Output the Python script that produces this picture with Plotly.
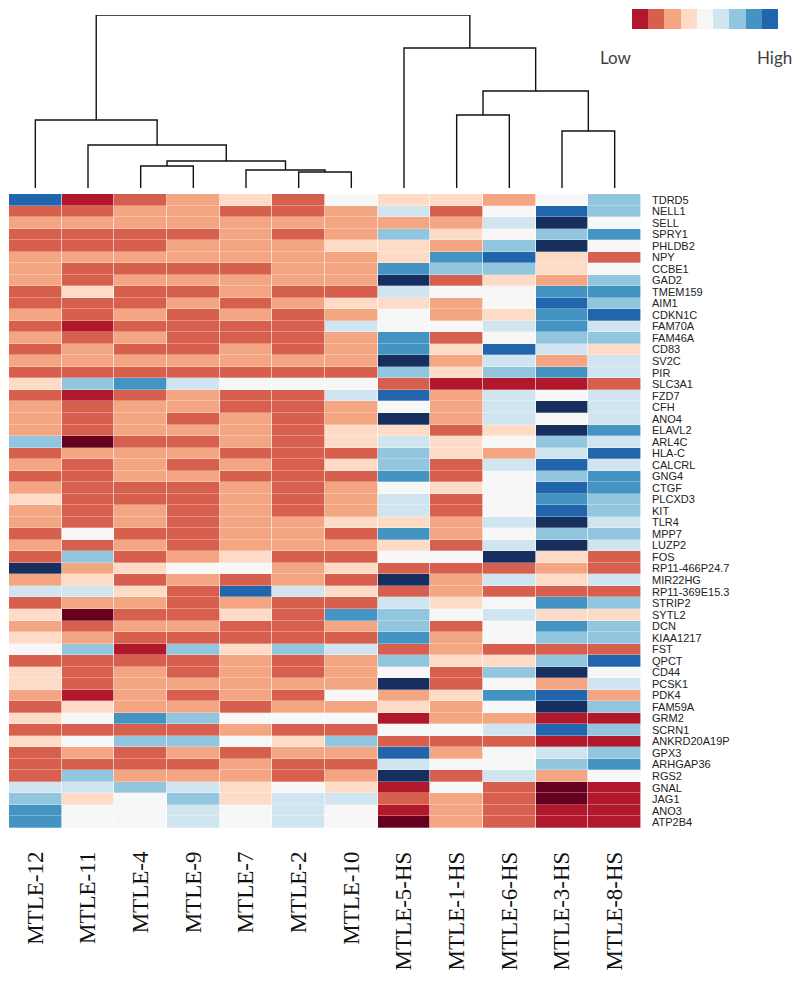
import plotly.graph_objects as go

samples = ["MTLE-12", "MTLE-11", "MTLE-4", "MTLE-9", "MTLE-7", "MTLE-2", "MTLE-10",
           "MTLE-5-HS", "MTLE-1-HS", "MTLE-6-HS", "MTLE-3-HS", "MTLE-8-HS"]

genes = ["TDRD5", "NELL1", "SELL", "SPRY1", "PHLDB2", "NPY", "CCBE1", "GAD2", "TMEM159",
         "AIM1", "CDKN1C", "FAM70A", "FAM46A", "CD83", "SV2C", "PIR", "SLC3A1", "FZD7",
         "CFH", "ANO4", "ELAVL2", "ARL4C", "HLA-C", "CALCRL", "GNG4", "CTGF", "PLCXD3",
         "KIT", "TLR4", "MPP7", "LUZP2", "FOS", "RP11-466P24.7", "MIR22HG", "RP11-369E15.3",
         "STRIP2", "SYTL2", "DCN", "KIAA1217", "FST", "QPCT", "CD44", "PCSK1", "PDK4",
         "FAM59A", "GRM2", "SCRN1", "ANKRD20A19P", "GPX3", "ARHGAP36", "RGS2", "GNAL",
         "JAG1", "ANO3", "ATP2B4"]

# expression level (binned, -5 = lowest ... 5 = highest), one row per gene
levels = [
    [4, -4, -3, -2, -1, -3, 0, -1, -1, -2, 0, 2],
    [-3, -3, -2, -2, -3, -3, -2, 1, -3, 0, 4, 2],
    [-2, -2, -2, -2, -2, -2, -2, -2, -2, 1, 5, 0],
    [-3, -3, -3, -3, -2, -3, -2, 2, -1, 0, 2, 3],
    [-3, -3, -3, -2, -2, -2, -1, -1, -2, 2, 5, 0],
    [-2, -2, -2, -2, -2, -2, -2, -1, 3, 4, -1, -3],
    [-2, -3, -3, -3, -3, -2, -2, 3, 2, 2, -1, 0],
    [-2, -3, -2, -2, -2, -2, -2, 5, -3, -1, -2, 2],
    [-3, -1, -3, -3, -2, -3, -3, 1, 0, 0, 3, 3],
    [-3, -3, -3, -2, -3, -2, -1, -1, -2, 0, 4, 2],
    [-2, -3, -2, -3, -2, -3, -2, 0, -2, -1, 3, 4],
    [-3, -4, -3, -3, -3, -3, 1, 0, 0, 1, 3, 1],
    [-2, -3, -2, -3, -3, -3, -2, 3, -3, 0, 2, 2],
    [-3, -2, -3, -3, -2, -3, -2, 3, -1, 4, 1, -1],
    [-2, -2, -2, -2, -2, -2, -2, 5, -2, 1, -2, 1],
    [-3, -3, -3, -3, -3, -3, -3, 2, -1, 2, 3, 1],
    [-1, 2, 3, 1, 0, 0, 0, -3, -4, -4, -4, -3],
    [-3, -4, -3, -2, -3, -3, 1, 4, -2, 1, 0, 1],
    [-2, -3, -2, -2, -3, -3, -2, 0, -2, 1, 5, 1],
    [-2, -3, -2, -3, -2, -3, -2, 5, -2, 1, 0, 1],
    [-2, -3, -2, -2, -2, -3, -1, -1, -3, -1, 5, 3],
    [2, -5, -3, -3, -2, -3, -1, 1, -1, 0, 2, 1],
    [-3, -2, -2, -2, -3, -3, -3, 2, -1, -2, 1, 4],
    [-2, -3, -2, -3, -2, -3, -1, 2, -3, 1, 4, 1],
    [-3, -3, -2, -2, -3, -3, -3, 3, -3, 0, 2, 3],
    [-2, -3, -3, -3, -2, -3, -2, 0, -1, 0, 4, 3],
    [-1, -3, -3, -3, -2, -3, -2, 1, -3, 0, 3, 2],
    [-2, -3, -2, -3, -2, -3, -2, 1, -3, 0, 4, 2],
    [-2, -3, -2, -3, -2, -2, -1, -1, -2, 1, 5, 1],
    [-3, 0, -3, -3, -2, -2, -3, 3, -2, 0, 2, 2],
    [-2, -3, -2, -3, -2, -2, -2, -1, -3, 1, 5, 1],
    [-3, 2, -3, -2, -1, -3, -3, 0, 0, 5, -1, -3],
    [5, -2, -1, 0, 0, -2, -1, -3, -3, -3, -2, -3],
    [-2, -1, -3, -2, -3, -2, -3, 5, -2, 1, -1, 1],
    [1, 1, -1, -3, 4, 1, -1, -3, -2, -3, -3, -3],
    [-3, -2, -2, -3, -2, -3, -3, 1, -1, 0, 3, 2],
    [-1, -5, -3, -3, -1, -3, 3, 2, 0, 1, -1, -1],
    [-2, -3, -2, -2, -3, -3, -2, 2, -3, 0, 3, 2],
    [-1, -2, -3, -3, -3, -3, -3, 3, -2, 0, 2, 2],
    [0, 2, -4, 2, -1, 2, 1, -3, -2, -3, -3, -3],
    [-3, -3, -3, -3, -2, -3, -2, 2, -1, -1, 2, 4],
    [-1, -3, -2, -3, -2, -3, -2, 0, -3, 2, 5, 0],
    [-1, -3, -2, -2, -2, -2, -2, 5, -3, 0, -2, 1],
    [-2, -4, -2, -3, -2, -3, 0, -2, -1, 3, 4, -2],
    [-3, -1, -2, -2, -3, -2, -2, -1, -2, 0, 5, 2],
    [-1, 0, 3, 2, 0, 0, 0, -4, -2, -2, -4, -4],
    [-3, -3, -3, -3, -2, -3, -3, 0, 0, 1, 4, 2],
    [-1, 0, 2, 2, 0, -1, 2, -3, -3, -3, -4, -4],
    [-3, -2, -3, -2, -3, -2, -2, 4, -2, 0, 1, 2],
    [-3, -3, -3, -3, -2, -3, -3, 1, 0, 0, 2, 3],
    [-3, 2, -2, -2, -2, -3, -2, 5, -3, 1, -2, 0],
    [1, 1, 2, 1, -1, 0, -1, -4, 0, -3, -5, -4],
    [2, -1, 0, 2, -1, 1, 1, -3, -2, -3, -5, -4],
    [3, 0, 0, 1, 0, 1, 0, -4, -2, -3, -4, -4],
    [3, 0, 0, 1, 0, 1, 0, -5, -2, -3, -4, -4],
]

# hierarchical clustering of samples: (child a, child b, merge height)
merges = [
    ("MTLE-4", "MTLE-9", 22),      # m0
    ("MTLE-2", "MTLE-10", 16),     # m1
    ("MTLE-7", "m1", 18),          # m2
    ("m0", "m2", 27),              # m3
    ("MTLE-11", "m3", 43),         # m4
    ("MTLE-12", "m4", 68),         # m5
    ("MTLE-1-HS", "MTLE-6-HS", 73),  # m6
    ("MTLE-3-HS", "MTLE-8-HS", 57),  # m7
    ("m6", "m7", 97),              # m8
    ("MTLE-5-HS", "m8", 140),      # m9
    ("m5", "m9", 173),             # root
]

legend_levels = [-4, -3, -2, -1, 0, 1, 2, 3, 4]

palette = ["#67001f", "#b2182b", "#d6604d", "#f4a582", "#fddbc7", "#f7f7f7",
           "#d1e5f0", "#92c5de", "#4393c3", "#2166ac", "#172f5e"]
n = len(palette)
colorscale = []
for i, c in enumerate(palette):
    colorscale.append([i / n, c])
    colorscale.append([(i + 1) / n, c])

# dendrogram line segments computed from the merge table
pos = {s: (i, 0) for i, s in enumerate(samples)}
dx, dy = [], []
for k, (a, b, h) in enumerate(merges):
    xa, ha = pos[a]
    xb, hb = pos[b]
    dx += [xa, xa, xb, xb, None]
    dy += [ha, h, h, hb, None]
    pos["m%d" % k] = ((xa + xb) / 2, h)

W, H = 800, 981
OFF = 8  # page body margin


def px(v):
    return (v - OFF) / W


def py(v):
    return 1 - (v - OFF) / H


fig = go.Figure()
fig.add_trace(go.Heatmap(
    z=levels, x=samples, y=genes, colorscale=colorscale, zmin=-5.5, zmax=5.5,
    xgap=0.6, ygap=0.3,
    showscale=False, xaxis="x", yaxis="y", hoverinfo="skip"))
fig.add_trace(go.Scatter(
    x=dx, y=dy, mode="lines", line=dict(color="#111111", width=1.4),
    xaxis="x2", yaxis="y2", hoverinfo="skip", showlegend=False))
fig.add_trace(go.Heatmap(
    z=[legend_levels], colorscale=colorscale, zmin=-5.5, zmax=5.5,
    showscale=False, xaxis="x3", yaxis="y3", hoverinfo="skip"))

xd = [px(9), px(641)]
fig.update_layout(
    width=W, height=H, margin=dict(l=0, r=0, t=0, b=0),
    paper_bgcolor="white", plot_bgcolor="white", showlegend=False,
    xaxis=dict(domain=xd, side="bottom", tickangle=-90, ticks="", showgrid=False,
               zeroline=False, showline=False, ticklabelstandoff=18,
               tickmode="array", tickvals=samples, ticktext=samples,
               tickfont=dict(family="Liberation Serif", size=23, color="#111111")),
    yaxis=dict(domain=[py(828), py(194)], side="right", autorange="reversed",
               ticks="", showgrid=False, zeroline=False, showline=False,
               ticklabelstandoff=10, tickmode="array", tickvals=genes, ticktext=genes,
               tickfont=dict(family="Liberation Sans", size=11, color="#222222")),
    xaxis2=dict(domain=xd, range=[-0.5, len(samples) - 0.5], visible=False, anchor="y2"),
    yaxis2=dict(domain=[py(188), py(15)], range=[0, 173], visible=False, anchor="x2"),
    xaxis3=dict(domain=[px(632), px(778)], visible=False, anchor="y3"),
    yaxis3=dict(domain=[py(29), py(9)], visible=False, anchor="x3"),
    annotations=[
        dict(text="Low", x=px(616), y=py(58), xref="paper", yref="paper",
             xanchor="center", yanchor="middle",
             showarrow=False, font=dict(family="Lato", size=17, color="#404040")),
        dict(text="High", x=px(774), y=py(58), xref="paper", yref="paper",
             xanchor="center", yanchor="middle",
             showarrow=False, font=dict(family="Lato", size=17, color="#404040")),
    ],
)
fig.write_html("out.html")
